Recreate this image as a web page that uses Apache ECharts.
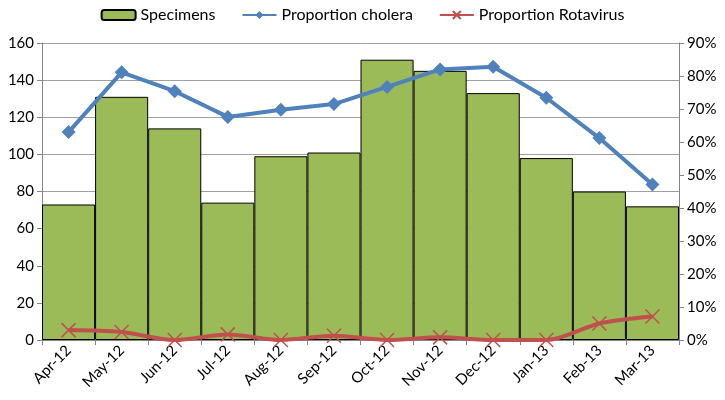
<!DOCTYPE html>
<html><head><meta charset="utf-8">
<script src="https://cdn.jsdelivr.net/npm/echarts@6/dist/echarts.min.js"></script>
<style>html,body{margin:0;padding:0;background:#fff}#c{width:725px;height:400px}</style>
</head><body><div id="c"></div>
<script>
var categories = ['Apr-12','May-12','Jun-12','Jul-12','Aug-12','Sep-12','Oct-12','Nov-12','Dec-12','Jan-13','Feb-13','Mar-13'];
var specimens = [73,131,114,74,99,101,151,145,133,98,80,72];
var cholera = [0.630,0.811,0.754,0.676,0.698,0.715,0.767,0.820,0.828,0.734,0.612,0.471];
var rotavirus = [0.030,0.024,0.000,0.017,0.000,0.013,0.000,0.008,0.000,0.000,0.050,0.071];
var FONT = "Lato,'Open Sans',sans-serif";
var chart = echarts.init(document.getElementById('c'));
chart.setOption({
  animation:false,
  textStyle:{fontFamily:FONT},
  legend:{top:2,left:'center',itemGap:26,itemWidth:34,itemHeight:10,
    textStyle:{fontFamily:FONT,fontSize:16,color:'#000'},
    data:[{name:'Specimens'},{name:'Proportion cholera'},{name:'Proportion Rotavirus'}]},
  grid:{left:42,right:46,top:43,bottom:60},
  xAxis:{type:'category',data:categories,boundaryGap:true,
    axisLine:{lineStyle:{color:'#868686'}},
    axisTick:{show:true,alignWithLabel:false,lineStyle:{color:'#868686'},length:5},
    axisLabel:{rotate:45,fontSize:15,color:'#000',fontFamily:FONT,margin:8}},
  yAxis:[
    {type:'value',min:0,max:160,interval:20,
     axisLine:{show:true,lineStyle:{color:'#868686'}},
     axisTick:{show:true,length:5,lineStyle:{color:'#868686'}},
     splitLine:{show:true,lineStyle:{color:'#a0a0a0',width:1}},
     axisLabel:{fontSize:15,color:'#000',fontFamily:FONT,margin:8}},
    {type:'value',min:0,max:0.9,interval:0.1,position:'right',
     axisLine:{show:true,lineStyle:{color:'#868686'}},
     axisTick:{show:true,length:5,lineStyle:{color:'#868686'}},
     splitLine:{show:false},
     axisLabel:{fontSize:15,color:'#000',fontFamily:FONT,margin:8,
       formatter:function(v){return Math.round(v*100)+'%';}}}
  ],
  series:[
    {name:'Specimens',type:'bar',data:specimens,barWidth:'100%',barCategoryGap:'0%',
     itemStyle:{color:'#9BBB59',borderColor:'#000',borderWidth:1}},
    {name:'Proportion cholera',type:'line',yAxisIndex:1,data:cholera,
     symbol:'diamond',symbolSize:14,
     lineStyle:{color:'#4F81BD',width:4},itemStyle:{color:'#4F81BD'}},
    {name:'Proportion Rotavirus',type:'line',yAxisIndex:1,data:rotavirus,smooth:0.3,
     symbol:'path://M0,0L10,10M10,0L0,10',symbolSize:14,
     lineStyle:{color:'#C0504D',width:4},
     itemStyle:{color:'none',borderColor:'#C0504D',borderWidth:1.5}}
  ]
});
</script></body></html>
